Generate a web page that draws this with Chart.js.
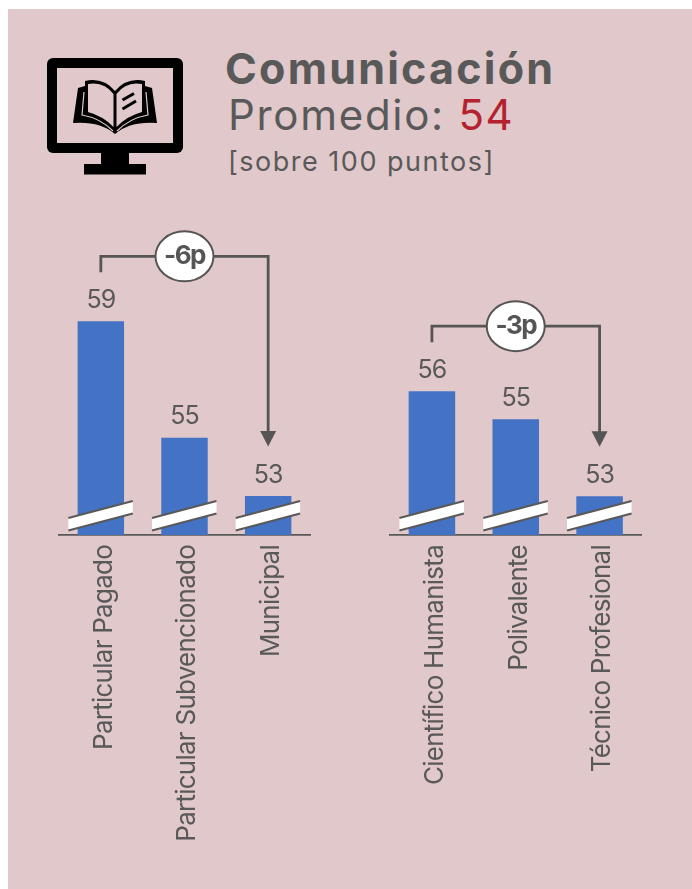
<!DOCTYPE html>
<html>
<head>
<meta charset="utf-8">
<script src="https://cdn.jsdelivr.net/npm/chart.js@4"></script>
<style>
html, body { margin: 0; padding: 0; background: #fff; }
#page { position: relative; width: 692px; height: 889px; overflow: hidden; }
#panel { position: absolute; left: 8px; top: 9px; width: 684px; height: 880px; background: #e0c8cb; }
#icon { position: absolute; left: 0; top: 0; }
.t { position: absolute; color: #595959; font-family: Inter, sans-serif; white-space: nowrap; line-height: 1; }
#t1 { left: 225px; top: 47px; font-size: 43px; font-weight: 700; letter-spacing: 2.25px; }
#t2 { left: 228px; top: 94px; font-size: 42px; letter-spacing: 1.7px; }
#t2 span { color: #b5222f; }
#t3 { left: 228px; top: 148px; font-size: 27px; letter-spacing: 1.5px; }
canvas { position: absolute; top: 200px; }
#chartLeft { left: 0; }
#chartRight { left: 346px; }
</style>
</head>
<body>
<div id="page">
    <div id="panel"></div>
    <svg id="icon" width="200" height="190" viewBox="0 0 200 190">
        <rect x="47" y="58" width="136" height="95" rx="6" fill="#000"/>
        <rect x="57" y="68" width="116" height="75" fill="#e0c8cb"/>
        <rect x="101" y="152" width="28" height="13" fill="#000"/>
        <rect x="84" y="164" width="62" height="10.5" fill="#000"/>
        <path d="M73,123 L78,88 L85,86 L85,81 Q103,77 115,91 Q127,77 145,81 L145,86 L152,88 L157,123 Q130,121 115,134 Q100,121 73,123 Z" fill="#000"/>
        <path d="M88,84 Q104,81 113.5,94 L113.5,127 Q103,116 88,112 Z" fill="#e0c8cb"/>
        <path d="M142,84 Q126,81 116.5,94 L116.5,127 Q127,116 142,112 Z" fill="#e0c8cb"/>
        <path d="M84,92 L82,115 Q100,118 113,131 M146,92 L148,115 Q130,118 117,131" fill="none" stroke="#e0c8cb" stroke-width="1.2"/>
        <path d="M122.5,100 L134,93.5 M122.5,109 L136,101" fill="none" stroke="#000" stroke-width="3"/>
    </svg>
    <div class="t" id="t1">Comunicación</div>
    <div class="t" id="t2">Promedio: <span>54</span></div>
    <div class="t" id="t3">[sobre 100 puntos]</div>
    <canvas id="chartLeft" width="346" height="689"></canvas>
    <canvas id="chartRight" width="346" height="689"></canvas>
</div>
<script>
const leftCategories = ["Particular Pagado", "Particular Subvencionado", "Municipal"];
const leftValues = [59, 55, 53];
const leftGap = "-6p";

const rightCategories = ["Científico Humanista", "Polivalente", "Técnico Profesional"];
const rightValues = [56, 55.2, 53];
const rightGap = "-3p";

const GREY = "#595959";

// value labels, broken axis marks and the bracket on top
const decorate = {
    id: "decorate",
    beforeDraw(chart) {
        // tick labels are set tight in the original
        chart.ctx.letterSpacing = "-0.75px";
    },
    afterDatasetsDraw(chart, args, opts) {
        const ctx = chart.ctx;
        const bars = chart.getDatasetMeta(0).data;
        const base = chart.chartArea.bottom;
        ctx.save();

        ctx.fillStyle = GREY;
        ctx.font = "25px Inter";
        ctx.letterSpacing = "-1px";
        ctx.textAlign = "center";
        ctx.textBaseline = "middle";
        bars.forEach((b, i) => {
            ctx.fillText(Math.round(chart.data.datasets[0].data[i]), b.x, b.y - 21);
        });

        // white slash over each bar
        bars.forEach(b => {
            ctx.beginPath();
            ctx.moveTo(b.x - 32.5, base - 17);
            ctx.lineTo(b.x + 32, base - 34);
            ctx.lineTo(b.x + 32, base - 21.5);
            ctx.lineTo(b.x - 32.5, base - 4.5);
            ctx.closePath();
            ctx.fillStyle = "#fff";
            ctx.fill();
            ctx.strokeStyle = GREY;
            ctx.lineWidth = 2;
            ctx.beginPath();
            ctx.moveTo(b.x - 32.5, base - 17);
            ctx.lineTo(b.x + 32, base - 34);
            ctx.moveTo(b.x - 32.5, base - 4.5);
            ctx.lineTo(b.x + 32, base - 21.5);
            ctx.stroke();
        });

        // bracket from first to last bar
        const first = bars[0];
        const last = bars[bars.length - 1];
        const top = first.y - 65;
        ctx.strokeStyle = "#555";
        ctx.lineWidth = 2.8;
        ctx.beginPath();
        ctx.moveTo(first.x, first.y - 49);
        ctx.lineTo(first.x, top);
        ctx.lineTo(last.x, top);
        ctx.lineTo(last.x, last.y - 62);
        ctx.stroke();
        ctx.fillStyle = "#555";
        ctx.beginPath();
        ctx.moveTo(last.x - 8, last.y - 65);
        ctx.lineTo(last.x + 8, last.y - 65);
        ctx.lineTo(last.x, last.y - 49.5);
        ctx.closePath();
        ctx.fill();

        const mid = bars[1].x;
        ctx.beginPath();
        ctx.ellipse(mid, top, 29, 25, 0, 0, Math.PI * 2);
        ctx.fillStyle = "#fff";
        ctx.fill();
        ctx.lineWidth = 2;
        ctx.stroke();
        ctx.fillStyle = "#555";
        ctx.font = "700 26px Inter";
        ctx.letterSpacing = "-1.5px";
        ctx.fillText(opts.gap, mid, top);
        ctx.restore();
    }
};

function drawChart(id, categories, values, yMin, yMax, padLeft, padRight, gap) {
    return new Chart(document.getElementById(id), {
        type: "bar",
        data: {
            labels: categories,
            datasets: [{
                data: values,
                backgroundColor: "#4472c4",
                barPercentage: 0.555,
                categoryPercentage: 1,
            }],
        },
        options: {
            responsive: false,
            animation: false,
            layout: { padding: { left: padLeft, right: padRight, top: 0, bottom: 0 } },
            plugins: {
                legend: { display: false },
                tooltip: { enabled: false },
                decorate: { gap: gap },
            },
            scales: {
                x: {
                    afterFit(scale) { scale.height = 354; },
                    grid: { display: false },
                    border: { color: GREY, width: 1.8 },
                    ticks: {
                        autoSkip: false,
                        minRotation: 90,
                        maxRotation: 90,
                        padding: 2,
                        labelOffset: 3,
                        color: GREY,
                        font: { family: "Inter", size: 26 },
                    },
                },
                y: { display: false, min: yMin, max: yMax },
            },
        },
        plugins: [decorate],
    });
}

drawChart("chartLeft", leftCategories, leftValues, 51.66, 63.17, 59, 36, leftGap);
drawChart("chartRight", rightCategories, rightValues, 51.89, 61.46, 44, 50.5, rightGap);
</script>
</body>
</html>
